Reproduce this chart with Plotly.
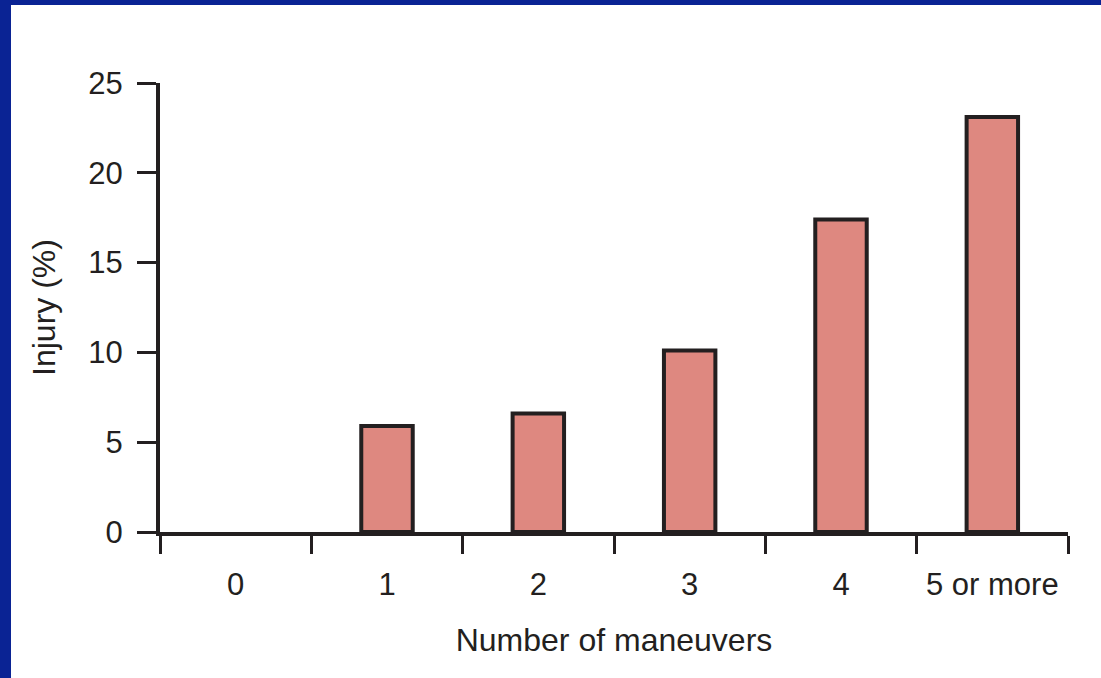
import plotly.graph_objects as go

categories = ["0", "1", "2", "3", "4", "5 or more"]
injury_pct = [0, 5.9, 6.6, 10.1, 17.4, 23.1]
y_ticks = [0, 5, 10, 15, 20, 25]

W, H = 1101, 678
L, R, T, B = 160, 33, 83, 146
pw = W - L - R
ph = H - T - B

def px_x(p):
    return (p - L) / pw

def px_y(p):
    return (H - B - p) / ph

text_col = "#231f20"
font_family = "Liberation Sans, Arial, Helvetica, sans-serif"

fig = go.Figure()
fig.add_trace(go.Bar(
    x=categories,
    y=injury_pct,
    width=0.34,
    marker=dict(color="#de8880",
                line=dict(color="#231f20", width=[4 if v > 0 else 0 for v in injury_pct])),
    hoverinfo="x+y",
))

fig.update_layout(
    width=W, height=H,
    margin=dict(l=L, r=R, t=T, b=B, pad=0),
    paper_bgcolor="white",
    plot_bgcolor="white",
    showlegend=False,
    font=dict(family=font_family, size=31, color=text_col),
    xaxis=dict(
        type="category",
        range=[-0.5, 5.5],
        showline=True, linecolor=text_col, linewidth=4,
        ticks="outside", tickson="boundaries", ticklen=18, tickwidth=3, tickcolor=text_col,
        showgrid=False, zeroline=False,
        tickfont=dict(size=31, color=text_col),
        ticklabelstandoff=22,
        title=dict(text="Number of maneuvers", font=dict(size=32, color=text_col), standoff=28),
    ),
    yaxis=dict(
        range=[0, 25],
        tickvals=y_ticks,
        showline=True, linecolor=text_col, linewidth=4,
        ticks="outside", ticklen=19, tickwidth=3, tickcolor=text_col,
        showgrid=False, zeroline=False,
        tickfont=dict(size=31, color=text_col),
        ticklabelstandoff=8,
        title=dict(text="Injury (%)", font=dict(size=32, color=text_col), standoff=24),
    ),
    shapes=[
        dict(type="rect", xref="paper", yref="paper",
             x0=px_x(-2), x1=px_x(11), y0=px_y(H + 2), y1=px_y(-2),
             fillcolor="#0a2394", line=dict(width=0), layer="above"),
        dict(type="rect", xref="paper", yref="paper",
             x0=px_x(-2), x1=px_x(W + 2), y0=px_y(5), y1=px_y(-2),
             fillcolor="#0a2394", line=dict(width=0), layer="above"),
    ],
)

fig.write_html("out.html",
               config={"displayModeBar": False},
               post_script="document.body.style.margin='0';document.body.style.overflow='hidden';")
